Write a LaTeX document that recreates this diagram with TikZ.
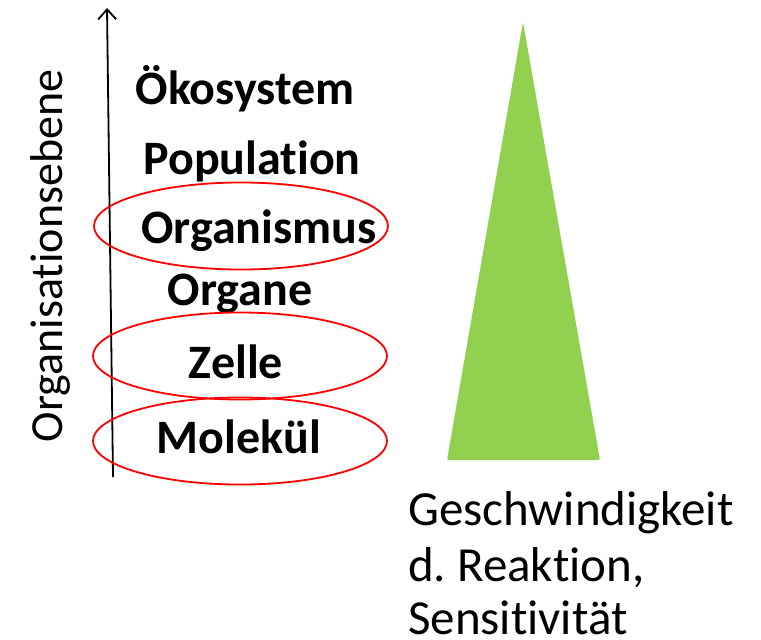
\documentclass[tikz,border=0pt]{standalone}
\usepackage{fontspec}
\setmainfont{Carlito}[RawFeature={-liga}]
\usetikzlibrary{arrows.meta,shapes.geometric}
\definecolor{tri}{HTML}{92D050}
\frenchspacing
\begin{document}
\begin{tikzpicture}[x=1pt,y=-1pt,
  level/.style={font=\fontsize{48}{56}\selectfont\bfseries, inner sep=0pt, anchor=base},
  captxt/.style={font=\fontsize{49}{56}\selectfont, inner sep=0pt, anchor=base west, text depth=0pt},
  ring/.style={draw=red, line width=1.8pt, ellipse, minimum width=#1, minimum height=87pt, inner sep=0pt},
]
\useasboundingbox (0,0) rectangle (761,640);
% axis
\coordinate (ab) at (113,477);
\coordinate (at) at (107,8);
\draw[line width=1.8pt, -{Straight Barb[length=10pt,width=18pt,line width=1.8pt]}] (ab) -- (at);
\node[rotate=90, font=\fontsize{46}{54}\selectfont, inner sep=0pt] (lab) at (50,256) {Organisationsebene};
% levels
\node[level] (oko) at (245,104) {Ökosystem};
\node[level] (pop) at (252,174) {Population};
\node[level] (org) at (259,243) {Organismus};
\node[level] (orn) at (240,305) {Organe};
\node[level] (zel) at (236,378) {Zelle};
\node[level] (mol) at (239,453) {Molekül};
% ellipses
\node[ring=294pt] (e1) at (241,226) {};
\node[ring=294pt] (e2) at (240,356) {};
\node[ring=294pt] (e3) at (240,441) {};
% triangle
\fill[tri, rounded corners=2pt] (523,22) -- (600,460) -- (447,460) -- cycle;
% caption
\node[captxt] (cap1) at (408,525) {Geschwindigkeit};
\node[captxt] (cap2) at (408,581) {d. Reaktion,};
\node[captxt] (cap3) at (408,634) {Sensitivität};
\end{tikzpicture}
\end{document}
